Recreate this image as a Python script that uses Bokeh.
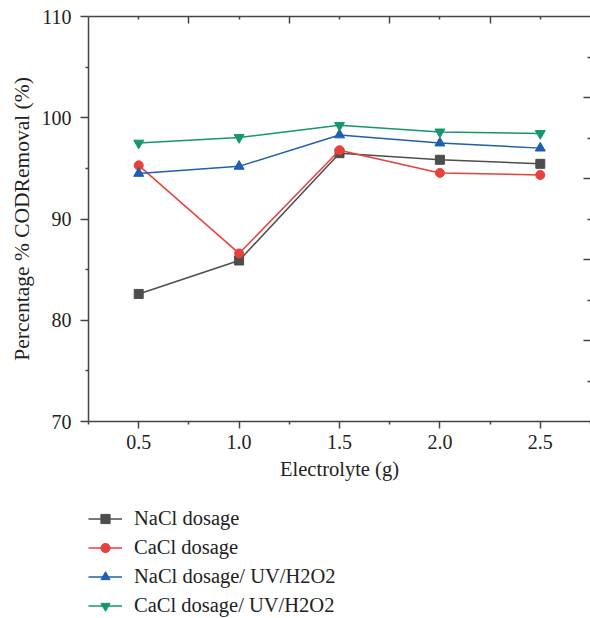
from bokeh.plotting import figure
from bokeh.layouts import column
from bokeh.models import (LinearAxis, FixedTicker, CustomJSTickFormatter, Legend, LegendItem, Range1d)
from bokeh.embed import file_html
from bokeh.resources import INLINE

# ---- data ----
electrolyte = [0.5, 1.0, 1.5, 2.0, 2.5]
x_tick_labels = ["0.5", "1.0", "1.5", "2.0", "2.5"]
nacl = [82.6, 85.9, 96.5, 95.85, 95.45]
cacl = [95.3, 86.6, 96.8, 94.55, 94.35]
nacl_uv = [94.5, 95.2, 98.3, 97.5, 97.0]
cacl_uv = [97.5, 98.05, 99.25, 98.6, 98.45]
y_ticks = [70, 80, 90, 100, 110]
y_minor = [75, 85, 95, 105]
x_minor = [0.25, 0.75, 1.25, 1.75, 2.25, 2.75]
top_major = [0.75, 1.25, 1.75, 2.25]
top_minor = [0.5, 1.0, 1.5, 2.0, 2.5]
right_major = [78, 86, 94, 102]
right_minor = [74, 82, 90, 98, 106]

series = [
    ("NaCl dosage", nacl, "#4d4d4d", "square", 9),
    ("CaCl dosage", cacl, "#e8403a", "circle", 9),
    ("NaCl dosage/ UV/H2O2", nacl_uv, "#1f5fad", "triangle", 10),
    ("CaCl dosage/ UV/H2O2", cacl_uv, "#14976d", "inverted_triangle", 10),
]

FONT = "Liberation Serif"
AX = "#444444"

p = figure(width=590, height=490, output_backend="svg", toolbar_location=None,
           x_range=Range1d(0.25, 2.75), y_range=Range1d(70, 110),
           min_border_left=88, min_border_right=0, min_border_top=16, min_border_bottom=69,
           x_axis_type=None, y_axis_type=None)
p.outline_line_color = None
p.xgrid.visible = False
p.ygrid.visible = False
p.background_fill_color = "white"
p.border_fill_color = "white"

def style(ax):
    ax.axis_line_color = AX
    ax.axis_line_width = 1.5
    ax.major_tick_line_color = AX
    ax.minor_tick_line_color = AX
    ax.major_tick_line_width = 1.5
    ax.minor_tick_line_width = 1.5
    ax.major_label_text_font = FONT
    ax.major_label_text_font_size = "20px"
    ax.major_label_text_color = "#222222"
    ax.axis_label_text_font = FONT
    ax.axis_label_text_font_style = "normal"
    ax.axis_label_text_color = "#222222"

# bottom axis
xb = LinearAxis(ticker=FixedTicker(ticks=electrolyte, minor_ticks=x_minor),
                major_label_overrides={v: s for v, s in zip(electrolyte, x_tick_labels)},
                axis_label="Electrolyte (g)")
style(xb)
xb.major_tick_out = 7
xb.major_tick_in = 0
xb.minor_tick_out = 3
xb.minor_tick_in = 0
xb.major_label_standoff = 6
xb.axis_label_standoff = 6
xb.axis_label_text_font_size = "20.5px"
p.add_layout(xb, "below")

# left axis
yl = LinearAxis(ticker=FixedTicker(ticks=y_ticks, minor_ticks=y_minor),
                axis_label="Percentage % CODRemoval (%)")
style(yl)
yl.major_tick_out = 8
yl.major_tick_in = 0
yl.minor_tick_out = 3
yl.minor_tick_in = 0
yl.major_label_standoff = 9
yl.axis_label_standoff = 5
yl.axis_label_text_font_size = "21.5px"
p.add_layout(yl, "left")

empty = CustomJSTickFormatter(code="return ''")

# top axis (ticks only)
xt = LinearAxis(ticker=FixedTicker(ticks=top_major, minor_ticks=top_minor), formatter=empty)
style(xt)
xt.major_tick_out = 0
xt.major_tick_in = 7
xt.minor_tick_out = 0
xt.minor_tick_in = 3
xt.major_label_standoff = 0
xt.major_label_text_font_size = "0px"
xt.major_label_text_alpha = 0
p.add_layout(xt, "above")

# right axis (ticks only, axis line cut off)
yr = LinearAxis(ticker=FixedTicker(ticks=right_major, minor_ticks=right_minor), formatter=empty)
style(yr)
yr.axis_line_color = None
yr.major_tick_out = 0
yr.major_tick_in = 7
yr.minor_tick_out = 0
yr.minor_tick_in = 3
yr.major_label_standoff = 0
yr.major_label_text_font_size = "0px"
yr.major_label_text_alpha = 0
p.add_layout(yr, "right")

# legend panel below (separate figure; its y range keeps the series out of view)
p2 = figure(width=590, height=128, output_backend="svg", toolbar_location=None,
            x_range=Range1d(0, 1), y_range=Range1d(0, 1),
            min_border_left=0, min_border_right=0, min_border_top=0, min_border_bottom=0,
            x_axis_type=None, y_axis_type=None)
p2.outline_line_color = None
p2.xgrid.visible = False
p2.ygrid.visible = False
p2.background_fill_color = "white"
p2.border_fill_color = "white"

items = []
for name, vals, color, marker, size in series:
    p.line(electrolyte, vals, line_color=color, line_width=1.5)
    p.scatter(electrolyte, vals, marker=marker, size=size,
              fill_color=color, line_color=color)
    lr = p2.line(electrolyte, vals, line_color=color, line_width=1.5)
    sr = p2.scatter(electrolyte, vals, marker=marker, size=size,
                    fill_color=color, line_color=color)
    items.append(LegendItem(label=name, renderers=[lr, sr]))

legend = Legend(items=items, location=(0, 1), orientation="vertical")
legend.border_line_color = None
legend.background_fill_alpha = 0
legend.padding = 0
legend.margin = 0
legend.spacing = 6
legend.glyph_width = 34
legend.glyph_height = 23
legend.label_height = 23
legend.label_standoff = 12
legend.label_text_font = FONT
legend.label_text_font_size = "20.5px"
legend.label_text_color = "#222222"
p2.add_layout(legend)

layout = column(p, p2, spacing=0)
open("out.html", "w").write(file_html(layout, INLINE))
